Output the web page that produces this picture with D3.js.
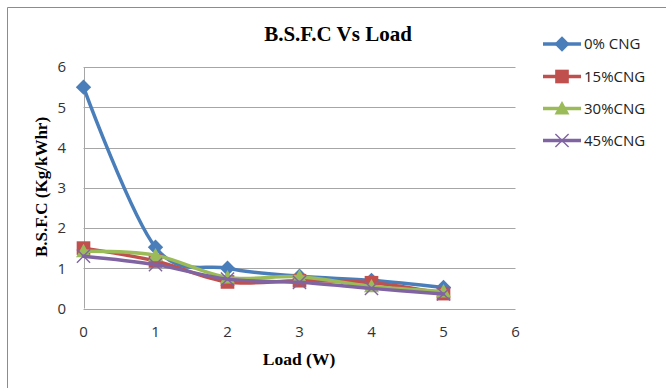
<!DOCTYPE html>
<html>
<head>
<meta charset="utf-8">
<script src="https://cdn.jsdelivr.net/npm/d3@7"></script>
<style>
  html, body { margin: 0; padding: 0; background: #fff; }
  svg { display: block; }
</style>
</head>
<body>
<svg id="chart" width="666" height="388"></svg>
<script>
// Load steps (W)
const loads = [0, 1, 2, 3, 4, 5];
// B.S.F.C (Kg/kWhr) for each CNG share
const cng0  = [5.5, 1.52, 1.0, 0.8, 0.7, 0.52];
const cng15 = [1.5, 1.18, 0.66, 0.69, 0.64, 0.37];
const cng30 = [1.42, 1.32, 0.77, 0.79, 0.55, 0.42];
const cng45 = [1.3, 1.09, 0.73, 0.65, 0.5, 0.36];
const seriesNames = ["0% CNG", "15%CNG", "30%CNG", "45%CNG"];
const xTicks = [0, 1, 2, 3, 4, 5, 6];
const yTicks = [0, 1, 2, 3, 4, 5, 6];

const seriesValues = [cng0, cng15, cng30, cng45];
const colors = ["#4A7EBB", "#C0504D", "#9BBB59", "#8064A2"];
const markers = ["diamond", "square", "triangle", "cross"];

const svg = d3.select("#chart");

// chart frame (left and top edges visible)
svg.append("path")
  .attr("d", "M7.5,388 V7.5 H666")
  .attr("fill", "none")
  .attr("stroke", "#8c8c8c")
  .attr("stroke-width", 1);

const x = d3.scaleLinear().domain([0, 6]).range([83.5, 515.5]);
const y = d3.scaleLinear().domain([0, 6]).range([308.5, 67]);

// horizontal gridlines
svg.append("g")
  .selectAll("line")
  .data(yTicks)
  .join("line")
  .attr("x1", x(0)).attr("x2", x(6))
  .attr("y1", d => Math.round(y(d)) + 0.5).attr("y2", d => Math.round(y(d)) + 0.5)
  .attr("stroke", "#a6a6a6")
  .attr("stroke-width", 1);

// vertical axis line
svg.append("line")
  .attr("x1", Math.round(x(0)) + 0.5).attr("x2", Math.round(x(0)) + 0.5)
  .attr("y1", y(6)).attr("y2", y(0))
  .attr("stroke", "#a6a6a6");

const tickFont = "Open Sans, Liberation Sans, sans-serif";

// y tick labels
svg.append("g")
  .selectAll("text")
  .data(yTicks)
  .join("text")
  .attr("x", 66)
  .attr("y", d => y(d))
  .attr("dy", "0.36em")
  .attr("text-anchor", "end")
  .attr("font-family", tickFont)
  .attr("font-size", 15)
  .attr("fill", "#333")
  .text(d => d);

// x tick labels
svg.append("g")
  .selectAll("text")
  .data(xTicks)
  .join("text")
  .attr("x", d => x(d))
  .attr("y", 332)
  .attr("dy", "0.36em")
  .attr("text-anchor", "middle")
  .attr("font-family", tickFont)
  .attr("font-size", 15)
  .attr("fill", "#333")
  .text(d => d);

// titles
const serif = "Liberation Serif, Times New Roman, serif";
svg.append("text")
  .attr("x", 338).attr("y", 41)
  .attr("text-anchor", "middle")
  .attr("font-family", serif)
  .attr("font-weight", "bold")
  .attr("font-size", 21)
  .attr("fill", "#000")
  .text("B.S.F.C Vs Load");

svg.append("text")
  .attr("x", 299).attr("y", 365)
  .attr("text-anchor", "middle")
  .attr("font-family", serif)
  .attr("font-weight", "bold")
  .attr("font-size", 17.5)
  .attr("fill", "#000")
  .text("Load (W)");

svg.append("text")
  .attr("transform", "translate(47,187) rotate(-90)")
  .attr("text-anchor", "middle")
  .attr("font-family", serif)
  .attr("font-weight", "bold")
  .attr("font-size", 17)
  .attr("fill", "#000")
  .text("B.S.F.C (Kg/kWhr)");

// marker drawing
function drawMarker(g, type, color, size) {
  if (type === "diamond") {
    const s = size * 0.7;
    g.append("path").attr("d", `M0,${-s}L${s},0L0,${s}L${-s},0Z`).attr("fill", color);
  } else if (type === "square") {
    const s = size * 0.62;
    g.append("rect").attr("x", -s).attr("y", -s).attr("width", 2 * s).attr("height", 2 * s).attr("fill", color);
  } else if (type === "triangle") {
    const s = size * 0.68;
    g.append("path").attr("d", `M0,${-s}L${s},${s * 0.8}L${-s},${s * 0.8}Z`).attr("fill", color);
  } else {
    const s = size * 0.6;
    g.append("path").attr("d", `M${-s},${-s}L${s},${s}M${-s},${s}L${s},${-s}`)
      .attr("stroke", color).attr("stroke-width", 1.4).attr("fill", "none");
  }
}

const line = d3.line()
  .x((d, i) => x(loads[i]))
  .y(d => y(d))
  .curve(d3.curveCatmullRom.alpha(0));

seriesValues.forEach((vals, si) => {
  const g = svg.append("g");
  g.append("path")
    .datum(vals)
    .attr("d", line)
    .attr("fill", "none")
    .attr("stroke", colors[si])
    .attr("stroke-width", 3.5)
    .attr("stroke-linejoin", "round")
    .attr("stroke-linecap", "round");
  vals.forEach((v, i) => {
    const m = g.append("g").attr("transform", `translate(${x(loads[i])},${y(v)})`);
    drawMarker(m, markers[si], colors[si], 11);
  });
});

// legend
const legend = svg.append("g");
const legendY = [44, 76.5, 108.5, 140.5];
seriesNames.forEach((name, i) => {
  const g = legend.append("g").attr("transform", `translate(0,${legendY[i]})`);
  g.append("line")
    .attr("x1", 543).attr("x2", 581).attr("y1", 0).attr("y2", 0)
    .attr("stroke", colors[i]).attr("stroke-width", 3.5);
  const m = g.append("g").attr("transform", "translate(562,0)");
  drawMarker(m, markers[i], colors[i], 11);
  g.append("text")
    .attr("x", 584).attr("y", 0).attr("dy", "0.36em")
    .attr("font-family", tickFont)
    .attr("font-size", 15)
    .attr("fill", "#222")
    .text(name);
});
</script>
</body>
</html>
